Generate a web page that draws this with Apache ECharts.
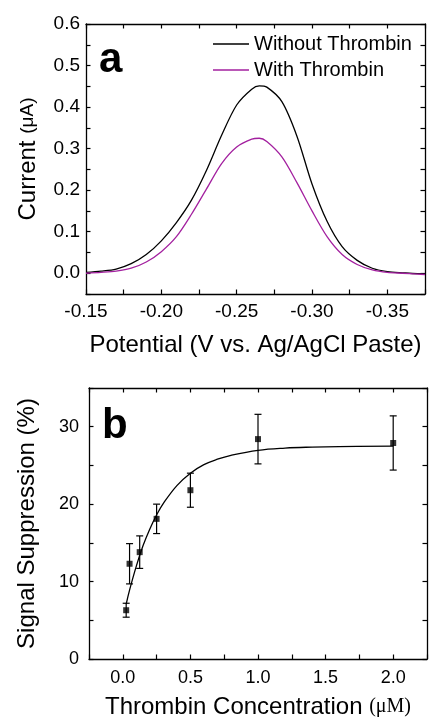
<!DOCTYPE html>
<html><head><meta charset="utf-8">
<script src="https://cdn.jsdelivr.net/npm/echarts@6/dist/echarts.min.js"></script>
<style>html,body{margin:0;padding:0;background:#fff}#c{width:431px;height:720px}</style>
</head><body><div id="c"></div>
<script>
// ---------- Panel a: square-wave voltammograms ----------
const potential = [-0.15,-0.16,-0.17,-0.18,-0.19,-0.20,-0.21,-0.22,-0.23,-0.24,-0.25,-0.26,-0.265,-0.27,-0.28,-0.29,-0.30,-0.31,-0.32,-0.33,-0.34,-0.35,-0.36,-0.37,-0.375];
const currentWithout = [0.002,0.005,0.010,0.023,0.045,0.078,0.122,0.176,0.248,0.332,0.405,0.443,0.451,0.448,0.413,0.330,0.215,0.125,0.064,0.031,0.012,0.004,0.001,-0.001,-0.001];
const currentWith = [0.000,0.002,0.005,0.012,0.027,0.052,0.088,0.142,0.203,0.264,0.304,0.323,0.325,0.317,0.280,0.218,0.150,0.088,0.045,0.021,0.008,0.002,0.000,-0.002,-0.003];
const seriesNamesA = ['Without Thrombin', 'With Thrombin'];

// ---------- Panel b: signal suppression ----------
const concentration = [0.025, 0.05, 0.125, 0.25, 0.5, 1.0, 2.0];
const suppression = [6.3, 12.3, 13.8, 18.1, 21.8, 28.4, 27.9];
const suppressionErr = [0.9, 2.6, 2.1, 1.9, 2.2, 3.2, 3.5];
const fitConc = [0.025,0.05,0.1,0.15,0.2,0.25,0.3,0.4,0.5,0.6,0.7,0.8,1.0,1.2,1.4,1.6,2.0];
const fitSupp = [7.1,8.9,12.0,14.65,16.8,18.6,20.1,22.4,24.0,25.1,25.8,26.3,26.95,27.24,27.37,27.44,27.49];

// ---------- Axis ticks: [min, max, tick step, label step] ----------
const aXTicks = [-0.375, -0.15, 0.025, 0.05];
const aYTicks = [-0.05, 0.6, 0.05, 0.1];
const bXTicks = [-0.25, 2.25, 0.25, 0.5];
const bYTicks = [0, 35, 5, 10];

const FONT = 'Liberation Sans';
const BLACK = '#000';
const lineSt = {color: BLACK, width: 1.3};
const tickSt = {color: BLACK, width: 1.2};

function isMajor(v, step) {
  const r = v / step;
  return Math.abs(r - Math.round(r)) < 1e-6;
}

function axisSet(dim, gridIndex, ticks, inverse, digits, labelSize, labelMargin, name, nameGap, nameStyle) {
  const [min, max, step, major] = ticks;
  const base = {type: 'value', gridIndex, min, max, interval: step, inverse, splitLine: {show: false}, splitArea: {show: false}};
  const p1 = dim === 'x' ? 'bottom' : 'left';
  const p2 = dim === 'x' ? 'top' : 'right';
  return [
    Object.assign({}, base, {
      position: p1,
      axisLine: {show: true, onZero: false, lineStyle: lineSt},
      axisTick: {show: true, inside: true, length: 4.5, lineStyle: tickSt},
      axisLabel: {show: true, formatter: v => isMajor(v, major) ? (Math.abs(v) < 1e-9 ? 0 : v).toFixed(digits) : '',
        color: BLACK, fontFamily: FONT, fontSize: labelSize, margin: labelMargin, showMinLabel: true, showMaxLabel: true},
      name, nameLocation: 'middle', nameGap, nameTextStyle: nameStyle
    }),
    Object.assign({}, base, {
      position: p2,
      axisLine: {show: true, onZero: false, lineStyle: lineSt},
      axisTick: {show: true, inside: true, length: 4.5, lineStyle: tickSt},
      axisLabel: {show: false}
    })
  ];
}

const xAxes = [].concat(
  axisSet('x', 0, aXTicks, true, 2, 19, 8,
    'Potential (V vs. Ag/AgCl Paste)', 39, {color: BLACK, fontFamily: FONT, fontSize: 24}),
  axisSet('x', 1, bXTicks, false, 1, 18, 10,
    '{a|Thrombin Concentration }{b|(μM)}', 36,
    {rich: {a: {color: BLACK, fontFamily: FONT, fontSize: 24}, b: {color: BLACK, fontFamily: 'Liberation Serif', fontSize: 20}}})
);
const yAxes = [].concat(
  axisSet('y', 0, aYTicks, false, 1, 19, 6,
    '{a|Current }{b|(μA)}', 46,
    {rich: {a: {color: BLACK, fontFamily: FONT, fontSize: 24}, b: {color: BLACK, fontFamily: FONT, fontSize: 19}}}),
  axisSet('y', 1, bYTicks, false, 0, 18, 10,
    'Signal Suppression (%)', 50, {color: BLACK, fontFamily: FONT, fontSize: 24})
);

const chart = echarts.init(document.getElementById('c'), null, {renderer: 'canvas'});
chart.setOption({
  animation: false,
  backgroundColor: '#fff',
  grid: [
    {left: 86, top: 24, width: 339, height: 270, containLabel: false, outerBoundsMode: 'none'},
    {left: 89, top: 388, width: 338, height: 271, containLabel: false, outerBoundsMode: 'none'}
  ],
  xAxis: xAxes,
  yAxis: yAxes,
  legend: {
    data: seriesNamesA,
    orient: 'vertical', left: 213, top: 34, padding: 0,
    icon: 'rect', itemWidth: 36, itemHeight: 1.4, itemGap: 6,
    textStyle: {color: BLACK, fontFamily: FONT, fontSize: 20},
    selectedMode: false
  },
  graphic: [
    {type: 'text', left: 99, top: 39, style: {text: 'a', font: 'bold 42px "Liberation Sans"', fill: BLACK}},
    {type: 'text', left: 102, top: 405, style: {text: 'b', font: 'bold 42px "Liberation Sans"', fill: BLACK}}
  ],
  series: [
    {
      name: seriesNamesA[0], type: 'line', xAxisIndex: 0, yAxisIndex: 0,
      data: potential.map((p, i) => [p, currentWithout[i]]),
      symbol: 'none', smooth: 0.3, lineStyle: {color: '#000', width: 1.3}, itemStyle: {color: '#000'}
    },
    {
      name: seriesNamesA[1], type: 'line', xAxisIndex: 0, yAxisIndex: 0,
      data: potential.map((p, i) => [p, currentWith[i]]),
      symbol: 'none', smooth: 0.3, lineStyle: {color: '#a3209f', width: 1.3}, itemStyle: {color: '#a3209f'}
    },
    {
      name: 'fit', type: 'line', xAxisIndex: 2, yAxisIndex: 2,
      data: fitConc.map((c, i) => [c, fitSupp[i]]),
      symbol: 'none', smooth: 0.4, lineStyle: {color: '#000', width: 1.3}
    },
    {
      name: 'error', type: 'custom', xAxisIndex: 2, yAxisIndex: 2,
      data: concentration.map((c, i) => [c, suppression[i] - suppressionErr[i], suppression[i] + suppressionErr[i]]),
      encode: {x: 0, y: [1, 2]},
      renderItem: function (params, api) {
        const lo = api.coord([api.value(0), api.value(1)]);
        const hi = api.coord([api.value(0), api.value(2)]);
        const w = 3.5;
        const st = {stroke: '#000', lineWidth: 1.2};
        return {type: 'group', children: [
          {type: 'line', shape: {x1: lo[0], y1: lo[1], x2: hi[0], y2: hi[1]}, style: st},
          {type: 'line', shape: {x1: lo[0] - w, y1: lo[1], x2: lo[0] + w, y2: lo[1]}, style: st},
          {type: 'line', shape: {x1: hi[0] - w, y1: hi[1], x2: hi[0] + w, y2: hi[1]}, style: st}
        ]};
      },
      z: 3
    },
    {
      name: 'data', type: 'scatter', xAxisIndex: 2, yAxisIndex: 2,
      data: concentration.map((c, i) => [c, suppression[i]]),
      symbol: 'rect', symbolSize: 6, itemStyle: {color: '#000'}, z: 4
    }
  ]
});
</script>
</body></html>
